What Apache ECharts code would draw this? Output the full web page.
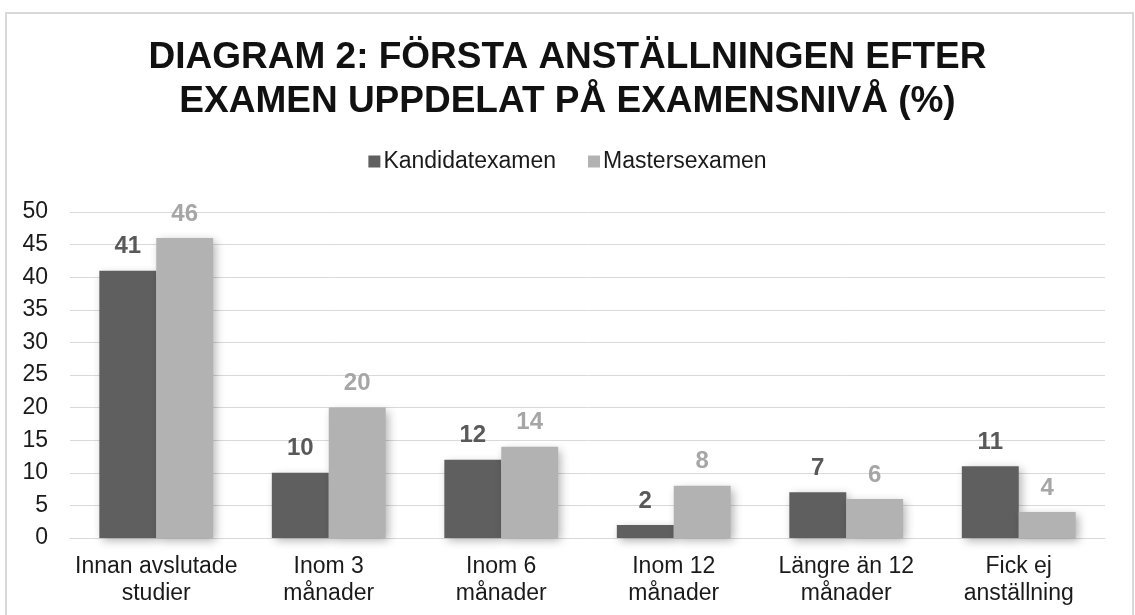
<!DOCTYPE html>
<html>
<head>
<meta charset="utf-8">
<script src="https://cdn.jsdelivr.net/npm/echarts@6/dist/echarts.min.js"></script>
<style>
  html, body { margin: 0; padding: 0; background: #fff; overflow: hidden; }
  #chart { width: 1135px; height: 615px; }
  .frame {
    position: absolute; left: 5px; top: 12px; width: 1129px; height: 620px;
    border: 2px solid #d9d9d9; box-sizing: border-box; pointer-events: none;
  }
</style>
</head>
<body>
<div id="chart"></div>
<div class="frame"></div>
<script>
// data
const categories = [
  'Innan avslutade\nstudier',
  'Inom 3\nmånader',
  'Inom 6\nmånader',
  'Inom 12\nmånader',
  'Längre än 12\nmånader',
  'Fick ej\nanställning'
]
const kandidat = [41, 10, 12, 2, 7, 11]
const master = [46, 20, 14, 8, 6, 4]
const yTicks = [0, 50, 5]

const font = 'Liberation Sans, Arial, sans-serif'

const barSeries = (name, data, color, labelColor) => ({
  name,
  type: 'bar',
  data,
  barGap: '0%',
  barCategoryGap: '34%',
  itemStyle: {
    color,
    shadowBlur: 9,
    shadowColor: 'rgba(0,0,0,0.3)',
    shadowOffsetX: 3,
    shadowOffsetY: 3
  },
  label: {
    show: true,
    position: 'top',
    distance: 12,
    color: labelColor,
    fontFamily: font,
    fontWeight: 'bold',
    fontSize: 24
  }
})

const chart = echarts.init(document.getElementById('chart'))
chart.setOption({
  animation: false,
  title: {
    text: 'DIAGRAM 2: FÖRSTA ANSTÄLLNINGEN EFTER\nEXAMEN UPPDELAT PÅ EXAMENSNIVÅ (%)',
    left: 'center',
    top: 31,
    textStyle: {
      fontFamily: font,
      fontWeight: 'bold',
      fontSize: 37,
      lineHeight: 44,
      color: '#111'
    }
  },
  legend: {
    top: 145,
    left: 'center',
    itemWidth: 12,
    itemHeight: 12,
    itemGap: 32,
    icon: 'rect',
    textStyle: { fontFamily: font, fontSize: 23, color: '#1a1a1a', padding: [0, 0, 0, -2] },
    data: ['Kandidatexamen', 'Mastersexamen']
  },
  grid: { left: 70, right: 30, top: 212, bottom: 77 },
  xAxis: {
    type: 'category',
    data: categories,
    axisTick: { show: false },
    axisLine: { lineStyle: { color: '#d9d9d9', width: 1 } },
    axisLabel: {
      fontFamily: font,
      fontSize: 23,
      lineHeight: 27,
      color: '#1a1a1a',
      margin: 15,
      interval: 0
    }
  },
  yAxis: {
    type: 'value',
    min: yTicks[0],
    max: yTicks[1],
    interval: yTicks[2],
    axisLine: { show: false },
    axisTick: { show: false },
    axisLabel: { fontFamily: font, fontSize: 23, color: '#1a1a1a', margin: 22 },
    splitLine: { lineStyle: { color: '#d9d9d9', width: 1 } }
  },
  series: [
    barSeries('Kandidatexamen', kandidat, '#5f5f5f', '#595959'),
    barSeries('Mastersexamen', master, '#b2b2b2', '#a6a6a6')
  ]
})
</script>
</body>
</html>
